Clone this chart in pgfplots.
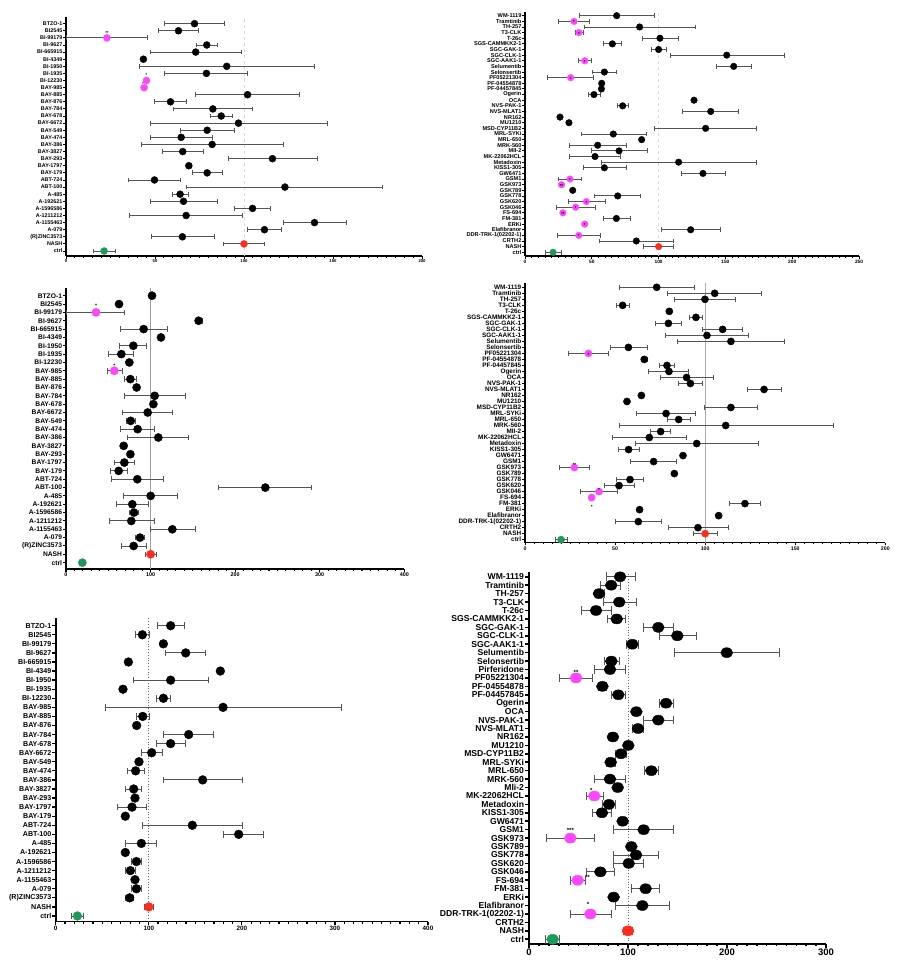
\documentclass[border=0pt]{standalone}
\usepackage{pgfplots}
\pgfplotsset{compat=1.18}
\usepackage{pgfplotstable}
\usepackage{fontspec}
\setmainfont{Liberation Sans}

\definecolor{magp}{HTML}{FF45FF}
\definecolor{redp}{HTML}{FF2B1C}
\definecolor{grnp}{HTML}{1E9A58}
\definecolor{ebar}{HTML}{555555}

\newcommand{\fs}[1]{\fontsize{#1}{#1}\selectfont\bfseries}

% y = position from the bottom (ctrl = 0); m = mean, lo/hi = ends of the error bar
\pgfplotstableread{
y m lo hi c
32 72.2 55.5 89 k
31 63.2 52.1 74.4 k
30 23 0.4 45.7 m
29 79.1 73.5 84.9 k
28 72.9 47.2 98.8 k
27 43.5 43.5 43.5 k
26 90.3 41 139.6 k
25 78.9 55.5 102.2 k
24 45.2 45.2 45.2 m
23 43.9 43.9 43.9 m
22 102 72.9 131.2 k
21 58.7 49.5 67.9 k
20 82.5 60.4 104.8 k
19 87.2 81.2 93.5 k
18 96.9 47.4 146.8 k
17 79.3 64.1 94.7 k
16 64.7 47.6 82.1 k
15 82.1 42.5 122 k
14 65.6 54.2 77 k
13 116 91.5 141 k
12 69 67.5 70.5 k
11 79.3 70.9 87.7 k
10 49.7 35.2 64.3 k
9 123 67.9 178 k
8 64.1 60 68.6 k
7 66 47.2 85.1 k
6 104.8 94.8 114.9 k
5 67.5 35.8 99 k
4 139.6 122 157.5 k
3 111.5 102.2 121 k
2 65.4 47.8 83.2 k
1 100 88.7 111.3 r
0 21.4 15.2 27.6 g
}\tTL

\pgfplotstableread{
y m lo hi c
42 68.6 40.4 97.1 k
41 36.7 25.4 48.2 m
40 85.8 44.4 127.5 k
39 40.4 37.7 43.4 m
38 101 87.8 114.5 k
37 65.4 58.4 72.4 k
36 100 94.8 105.5 k
35 151 109 193.9 k
34 44.7 39.7 49.9 m
33 156.2 143.2 169.4 k
32 59.4 50.4 68.6 k
31 34.2 17 51.4 m
30 57.4 57.4 57.4 k
29 57.2 57.2 57.2 k
28 51.6 47.4 56.1 k
27 126.5 126.5 126.5 k
26 73.1 69.4 77.1 k
25 139 118 159.4 k
24 26.2 26.2 26.2 k
23 32.9 32.9 32.9 k
22 135.2 96.8 173.4 k
21 66.1 41.9 90.8 k
20 87.3 87.3 87.3 k
19 54.4 33.2 75.6 k
18 70.4 49.7 91.3 k
17 52.4 33.2 71.6 k
16 115 57.4 172.9 k
15 59.4 43.7 75.6 k
14 133.2 117.3 149.7 k
13 33.7 25.2 41.9 m
12 27.4 27.4 27.4 m
11 35.7 35.7 35.7 k
10 69.4 51.9 86.6 k
9 45.9 32.2 60.1 m
8 37.9 23.5 52.9 m
7 28.4 28.4 28.4 m
6 68.4 58.4 78.6 k
5 44.7 44.7 44.7 m
4 124 102.5 146 k
3 40.2 24.5 56.4 m
2 83.3 55.4 111 k
1 100 88.6 111 r
0 21 15.2 27 g
}\tTR

\pgfplotstableread{
y m lo hi c
32 101.7 99 105 k
31 62.7 60.7 65.8 k
30 35.5 0.8 69.4 m
29 156.8 153.7 160.8 k
28 91.8 63.8 119.4 k
27 112.3 112.3 112.3 k
26 79.6 63.4 95.4 k
25 65.4 50.4 80 k
24 74.9 74.9 74.9 k
23 57.1 48.5 66.2 m
22 76.1 68.6 83.2 k
21 83.5 83.5 83.5 k
20 104.8 69 140.7 k
19 103.3 103.3 103.3 k
18 96.6 67 125.7 k
17 76.5 70.9 81.6 k
16 84.7 64.2 104.8 k
15 109.2 72.9 145 k
14 68.2 68.2 68.2 k
13 76.1 76.1 76.1 k
12 69 57.1 81.2 k
11 62.3 52.8 72.5 k
10 84.3 53.6 115.5 k
9 235.7 180.1 290.8 k
8 100.1 68.2 132 k
7 78.4 59.5 97 k
6 80.4 75.3 85.9 k
5 77.2 50.8 104 k
4 125.7 99.7 152.5 k
3 87.5 82 92.6 k
2 80 65.4 95 k
1 100 93.4 106.4 r
0 19.3 15.8 22.9 g
}\tML

\pgfplotstableread{
y m lo hi c
42 73.1 52.2 93.8 k
41 105.3 79.2 131.4 k
40 99.9 82.7 116.9 k
39 54.2 50.9 57.7 k
38 80.1 80.1 80.1 k
37 94.9 91.2 98.6 k
36 79.6 72.5 86.6 k
35 109.7 98.4 120.8 k
34 101 77.9 124.3 k
33 114.3 84.4 143.9 k
32 57.4 47.2 67.7 k
31 35.2 24.1 46.1 m
30 66.2 64.4 68.1 k
29 78.8 74.9 82.7 k
28 79.9 68.8 91 k
27 89.7 75.3 104.5 k
26 91.8 85.1 98.6 k
25 132.7 123.2 142.1 k
24 64.6 64.6 64.6 k
23 56.6 56.6 56.6 k
22 114.3 99.7 129.1 k
21 78.3 61.8 94.4 k
20 85.3 78.8 91.8 k
19 111.4 52.4 171 k
18 75.3 69.8 81 k
17 69 48.5 89.4 k
16 95.3 61.2 129.5 k
15 57.5 52 63.3 k
14 87.7 87.7 87.7 k
13 71.4 58.8 84.2 k
12 27.4 19.1 35.9 m
11 82.9 82.9 82.9 k
10 58.3 50.7 66 k
9 52.2 44 60.5 k
8 41.1 30.5 51.4 m
7 37 37 37 m
6 122.1 113.4 130.8 k
5 63.6 63.6 63.6 k
4 107.5 107.5 107.5 k
3 62.9 50.3 75.9 k
2 96 79.4 112.7 k
1 100 93.6 106.7 r
0 20 16.7 23.5 g
}\tMR

\pgfplotstableread{
y m lo hi c
32 123.5 108.9 138.2 k
31 93.1 85.6 101 k
30 115.7 115.7 115.7 k
29 139.7 118.2 160.4 k
28 78.1 78.1 78.1 k
27 176.9 176.9 176.9 k
26 123.5 83.4 164 k
25 72.3 72.3 72.3 k
24 115.7 108.5 123.5 k
23 179.8 53.4 306.5 k
22 93.5 87 100.3 k
21 87 87 87 k
20 142.9 116 169.4 k
19 123.5 108.5 138.9 k
18 103.1 92.4 114.2 k
17 89.5 89.5 89.5 k
16 85.9 76.6 94.9 k
15 157.9 115.7 200.5 k
14 83.8 75.2 92 k
13 85.2 85.2 85.2 k
12 82 65.9 97.8 k
11 74.8 74.8 74.8 k
10 146.8 93.5 200.5 k
9 196.6 180.5 223.5 k
8 92 75.2 108.5 k
7 74.8 74.8 74.8 k
6 86.7 81.3 91.7 k
5 80.2 74.8 85.9 k
4 85.2 85.2 85.2 k
3 86.7 81.3 91.7 k
2 79.5 75.2 83.4 k
1 100 95.3 104.6 r
0 23.3 16.5 30.1 g
}\tBL

\pgfplotstableread{
y m lo hi c
43 92 78 108 k
42 83 72 92 k
41 70.7 67 76 k
40 91.2 74.7 108.8 k
39 67.7 53.2 82.8 k
38 88.6 79.5 97.6 k
37 130.6 115.5 146.1 k
36 149.8 131.3 168.7 k
35 104.4 98 110.8 k
34 199.7 146.5 253.2 k
33 83.2 75.8 90.9 k
32 81.8 66 97.3 k
31 47.5 31 63.6 m
30 74.1 70 78.5 k
29 90.2 83.5 97.6 k
28 138.4 131.3 146.1 k
27 108.4 108.4 108.4 k
26 130.6 115.5 146.1 k
25 110.1 104 115.8 k
24 84.8 84.8 84.8 k
23 100.3 100.3 100.3 k
22 92.9 86.9 98.7 k
21 82.5 78.5 86.9 k
20 123.6 116.2 131 k
19 81.8 65.7 97.6 k
18 89.6 89.6 89.6 k
17 66 57.6 75.1 m
16 80.8 74.4 86.9 k
15 73.7 64 83.5 k
14 94.6 94.6 94.6 k
13 115.8 85.5 146.1 k
12 41.8 17.8 66 m
11 103.4 103.4 103.4 k
10 108.1 85.5 130.6 k
9 100.7 85.5 115.5 k
8 72.1 57.6 86.5 k
7 49.2 41.4 56.9 m
6 117.8 103.4 132 k
5 85.5 85.5 85.5 k
4 114.5 87.2 142.1 k
3 62 41.4 82.8 m
1 100 95 104.7 r
0 23.9 16.5 30.6 g
}\tBR

\pgfplotsset{
  forest/.style={
    scale only axis, anchor=south west,
    axis lines=left,
    axis line style={-, line width=#1},
    x axis line style={-}, y axis line style={-},
    enlargelimits=false, clip=false,
    tick align=outside,
    every tick/.style={black, line width=0.8*#1},
    minor x tick num=9,
    /pgf/number format/assume math mode=true,
    xticklabel style={inner sep=1pt},
    yticklabel style={inner sep=0.8pt},
  },
  leftcats/.style={ytick={0,...,32},
    yticklabels={ctrl,NASH,(R)ZINC3573,A-079,A-1155463,A-1211212,A-1596586,A-192621,A-485,ABT-100,ABT-724,BAY-179,BAY-1797,BAY-293,BAY-3827,BAY-386,BAY-474,BAY-549,BAY-6672,BAY-678,BAY-784,BAY-876,BAY-885,BAY-985,BI-12230,BI-1935,BI-1950,BI-4349,BI-665915,BI-9627,BI-99179,BI2545,BTZO-1}},
  rightcats/.style={ytick={0,...,42},
    yticklabels={ctrl,NASH,CRTH2,DDR-TRK-1(02202-1),Elafibranor,ERKi,FM-381,FS-694,GSK046,GSK620,GSK778,GSK789,GSK973,GSM1,GW6471,KISS1-305,Metadoxin,MK-22062HCL,MII-2,MRK-560,MRL-650,MRL-SYKi,MSD-CYP11B2,MU1210,NR162,NVS-MLAT1,NVS-PAK-1,OCA,Ogerin,PF-04457845,PF-04554878,PF05221304,Selonsertib,Selumentib,SGC-AAK1-1,SGC-CLK-1,SGC-GAK-1,SGS-CAMMKK2-1,T-26c,T3-CLK,TH-257,Tramtinib,WM-1119}},
  brcats/.style={ytick={0,...,43},
    yticklabels={ctrl,NASH,CRTH2,DDR-TRK-1(02202-1),Elafibranor,ERKi,FM-381,FS-694,GSK046,GSK620,GSK778,GSK789,GSK973,GSM1,GW6471,KISS1-305,Metadoxin,MK-22062HCL,Mli-2,MRK-560,MRL-650,MRL-SYKi,MSD-CYP11B2,MU1210,NR162,NVS-MLAT1,NVS-PAK-1,OCA,Ogerin,PF-04457845,PF-04554878,PF05221304,Pirferidone,Selonsertib,Selumentib,SGC-AAK1-1,SGC-CLK-1,SGC-GAK-1,SGS-CAMMKK2-1,T-26c,T3-CLK,TH-257,Tramtinib,WM-1119}},
  dots/.style 2 args={scatter, only marks, mark=*, mark size=#1,
    point meta=explicit symbolic,
    scatter/classes={k={draw=black,fill=black}, m={draw=magp,fill=magp},
      r={draw=redp,fill=redp}, g={draw=grnp,fill=grnp}},
    error bars/.cd, x dir=both, x explicit, error mark=|,
    error bar style={draw=ebar, line width=0.9pt},
    error mark options={draw=ebar, line width=0.9pt, mark size=#2}},
}
\tikzset{ast/.style={font=\fs{#1}, inner sep=0pt, anchor=base}}

\begin{document}
\begin{tikzpicture}
\useasboundingbox (0,0) rectangle (908pt,972pt);

% top left
\begin{axis}[forest=1.1pt, at={(66pt,716pt)}, width=356pt, height=239pt,
  xmin=0, xmax=200, ymin=-0.7, ymax=32.94, xtick={0,50,...,200},
  major tick length=2.6pt, minor tick length=1.6pt,
  leftcats, yticklabel style={font=\fs{5.4}}, xticklabel style={font=\fs{4.2}}]
\addplot[gray!30, dashed, line width=0.6pt] coordinates {(100,-0.7) (100,32.94)};
\addplot[dots={3.5pt}{2.4pt}] table[x=m, y=y, meta=c,
  x error plus expr=\thisrow{hi}-\thisrow{m},
  x error minus expr=\thisrow{m}-\thisrow{lo}] {\tTL};
\coordinate (a1) at (axis cs:23,30);
\coordinate (a2) at (axis cs:45.2,24);
\coordinate (a3) at (axis cs:43.2,23);
\end{axis}
\node[ast=4.2, yshift=3.6pt] at (a1) {**};
\node[ast=4.2, yshift=3.6pt] at (a2) {*};
\node[ast=4.2, yshift=2.2pt] at (a3) {*};

% top right
\begin{axis}[forest=1.1pt, at={(525pt,716pt)}, width=334pt, height=244pt,
  xmin=0, xmax=250, ymin=-0.66, ymax=42.66, xtick={0,50,...,250},
  major tick length=2.6pt, minor tick length=1.6pt,
  rightcats, yticklabel style={font=\fs{5.6}}, xticklabel style={font=\fs{4.8}}]
\addplot[gray!30, dashed, line width=0.6pt] coordinates {(100,-0.66) (100,42.66)};
\addplot[dots={3.3pt}{2.4pt}] table[x=m, y=y, meta=c,
  x error plus expr=\thisrow{hi}-\thisrow{m},
  x error minus expr=\thisrow{m}-\thisrow{lo}] {\tTR};
\coordinate (b1) at (axis cs:36.7,41);
\coordinate (b2) at (axis cs:40.4,39);
\coordinate (b3) at (axis cs:44.7,34);
\coordinate (b4) at (axis cs:34.2,31);
\coordinate (b5) at (axis cs:33.7,13);
\coordinate (b6) at (axis cs:27.4,12);
\coordinate (b7) at (axis cs:45.9,9);
\coordinate (b8) at (axis cs:37.9,8);
\coordinate (b9) at (axis cs:28.4,7);
\coordinate (b10) at (axis cs:44.7,5);
\coordinate (b11) at (axis cs:40.2,3);
\end{axis}
\foreach \p/\s in {b1/*,b2/*,b3/*,b4/*,b5/*,b6/**,b7/*,b8/*,b9/**,b10/*,b11/*}
  \node[ast=4.2, yshift=-2.6pt] at (\p) {\s};

% middle left
\begin{axis}[forest=1.3pt, at={(66pt,403pt)}, width=338.3pt, height=280.7pt,
  xmin=0, xmax=400, ymin=-0.76, ymax=32.89, xtick={0,100,...,400},
  major tick length=3pt, minor tick length=1.8pt,
  leftcats, yticklabel style={font=\fs{6.7}}, xticklabel style={font=\fs{5.4}}]
\addplot[gray!75, line width=0.6pt] coordinates {(100,-0.76) (100,32.89)};
\addplot[dots={4.1pt}{2.8pt}] table[x=m, y=y, meta=c,
  x error plus expr=\thisrow{hi}-\thisrow{m},
  x error minus expr=\thisrow{m}-\thisrow{lo}] {\tML};
\coordinate (c1) at (axis cs:35.5,30);
\coordinate (c2) at (axis cs:57.1,23);
\end{axis}
\node[ast=5, yshift=5pt] at (c1) {*};
\node[ast=5, yshift=3.2pt] at (c2) {*};

% middle right
\begin{axis}[forest=1.2pt, at={(525pt,429.3pt)}, width=360.3pt, height=259.7pt,
  xmin=0, xmax=200, ymin=-0.5, ymax=42.72, xtick={0,50,...,200},
  major tick length=2.8pt, minor tick length=1.7pt,
  rightcats, yticklabel style={font=\fs{6.4}}, xticklabel style={font=\fs{5.2}}]
\addplot[gray!65, line width=0.6pt] coordinates {(100,-0.5) (100,42.72)};
\addplot[dots={3.6pt}{2.7pt}] table[x=m, y=y, meta=c,
  x error plus expr=\thisrow{hi}-\thisrow{m},
  x error minus expr=\thisrow{m}-\thisrow{lo}] {\tMR};
\coordinate (d1) at (axis cs:35.2,31);
\coordinate (d2) at (axis cs:27.4,12);
\coordinate (d3) at (axis cs:41.1,8);
\coordinate (d4) at (axis cs:37,7);
\end{axis}
\node[ast=4.6, yshift=-2.8pt] at (d1) {*};
\node[ast=4.6, yshift=1.2pt] at (d2) {**};
\node[ast=4.6, yshift=0.6pt] at (d3) {*};
\node[ast=4.6, yshift=-10.8pt] at (d4) {*};

% bottom left
\begin{axis}[forest=1.6pt, at={(55.7pt,50.3pt)}, width=372.3pt, height=303.7pt,
  xmin=0, xmax=400, ymin=-0.63, ymax=32.85, xtick={0,100,...,400},
  major tick length=3.4pt, minor tick length=2pt,
  leftcats, yticklabel style={font=\fs{7.1}}, xticklabel style={font=\fs{6.3}}]
\addplot[gray!80!black, dotted, line width=0.8pt] coordinates {(100,-0.63) (100,32.85)};
\addplot[dots={4.4pt}{3.3pt}] table[x=m, y=y, meta=c,
  x error plus expr=\thisrow{hi}-\thisrow{m},
  x error minus expr=\thisrow{m}-\thisrow{lo}] {\tBL};
\end{axis}

% bottom right
\begin{axis}[forest=2pt, at={(529pt,28pt)}, width=297pt, height=372pt,
  xmin=0, xmax=300, ymin=-0.56, ymax=43.57, xtick={0,100,...,300},
  major tick length=4pt, minor tick length=2.4pt,
  brcats, yticklabel style={font=\fs{8.6}}, xticklabel style={font=\fs{9.5}}]
\addplot[gray!80!black, dotted, line width=0.8pt] coordinates {(100,-0.56) (100,43.57)};
\addplot[every mark/.append style={xscale=1.2}, dots={5pt}{4.3pt}] table[x=m, y=y, meta=c,
  x error plus expr=\thisrow{hi}-\thisrow{m},
  x error minus expr=\thisrow{m}-\thisrow{lo}] {\tBR};
\coordinate (e1) at (axis cs:47.5,31);
\coordinate (e2) at (axis cs:63,17);
\coordinate (e3) at (axis cs:41.8,12);
\coordinate (e4) at (axis cs:57,7);
\coordinate (e5) at (axis cs:59.7,3);
\end{axis}
\node[ast=6, yshift=3.8pt] at (e1) {**};
\node[ast=6, yshift=3.4pt] at (e2) {*};
\node[ast=6, yshift=5.2pt] at (e3) {***};
\node[ast=6, yshift=0.8pt, xshift=2pt] at (e4) {**};
\node[ast=6, yshift=7pt] at (e5) {*};
\end{tikzpicture}
\end{document}
